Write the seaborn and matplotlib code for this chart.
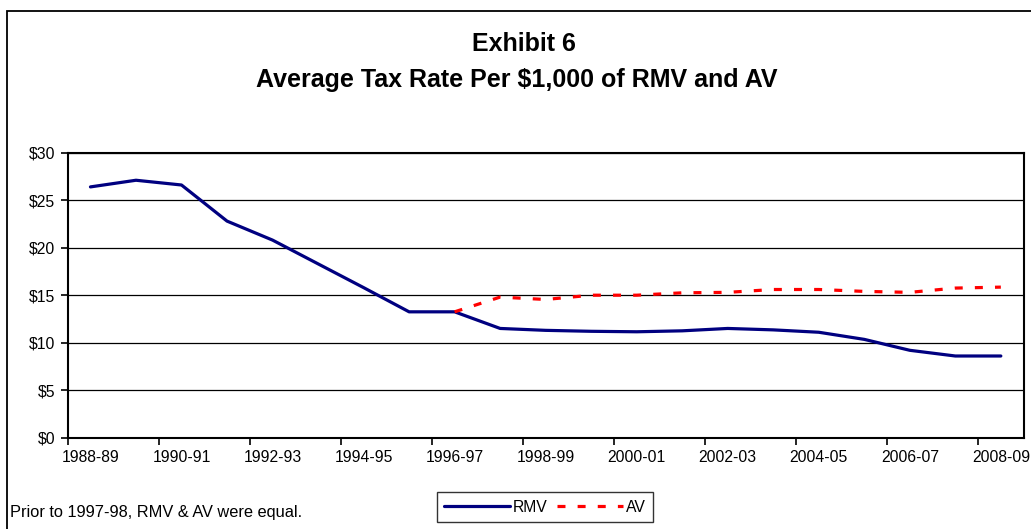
import numpy as np
import pandas as pd
import matplotlib
matplotlib.use('Agg')
import matplotlib.pyplot as plt
from matplotlib.patches import Rectangle
from matplotlib.ticker import StrMethodFormatter
import seaborn as sns

years = ['1988-89', '1989-90', '1990-91', '1991-92', '1992-93', '1993-94', '1994-95',
         '1995-96', '1996-97', '1997-98', '1998-99', '1999-00', '2000-01', '2001-02',
         '2002-03', '2003-04', '2004-05', '2005-06', '2006-07', '2007-08', '2008-09']
rmv = [26.4, 27.1, 26.6, 22.8, 20.8, 18.3, 15.8, 13.25, 13.25, 11.5, 11.3, 11.2, 11.15,
       11.25, 11.5, 11.35, 11.1, 10.35, 9.2, 8.6, 8.6]
av = [np.nan] * 8 + [13.25, 14.8, 14.55, 15.0, 15.0, 15.25, 15.3, 15.6, 15.6, 15.4,
                     15.3, 15.75, 15.85]

df = pd.DataFrame({'year': years, 'RMV': rmv, 'AV': av})

sns.set_style('white')
plt.rcParams['font.family'] = ['Liberation Sans', 'DejaVu Sans']
plt.rcParams['text.color'] = 'black'
plt.rcParams['xtick.color'] = 'black'
plt.rcParams['ytick.color'] = 'black'
plt.rcParams['axes.labelcolor'] = 'black'

fig = plt.figure(figsize=(10.31, 5.29), dpi=100)
ax = fig.add_axes([67.7 / 1031, 1 - 437.7 / 529, (1023.6 - 67.7) / 1031, (437.7 - 152.7) / 529])

sns.lineplot(data=df, x='year', y='RMV', ax=ax, color='#000080', lw=2.3, label='RMV')
sns.lineplot(data=df, x='year', y='AV', ax=ax, color='#FF0000', lw=2.3,
             linestyle=(0, (2.5, 3.8)), label='AV')

ax.set_xlim(-0.5, len(years) - 0.5)
ax.set_ylim(0, 30)
ax.set_xlabel('')
ax.set_ylabel('')

# labels on every other category, tick marks on category boundaries
ax.set_xticks(range(0, len(years), 2), labels=years[::2])
ax.set_xticks(np.arange(-0.5, len(years) - 1, 2), minor=True)
ax.tick_params(axis='x', which='major', length=0, pad=9, labelsize=11.3, labelcolor='black')
ax.tick_params(axis='x', which='minor', length=5, width=1.2, color='black', bottom=True)
ax.set_yticks(range(0, 31, 5))
ax.yaxis.set_major_formatter(StrMethodFormatter('${x:,.0f}'))
ax.tick_params(axis='y', length=5, width=1.2, pad=4, labelsize=11.3, labelcolor='black',
               color='black', left=True)

ax.yaxis.grid(True, color='black', lw=0.9)
ax.set_axisbelow(True)
for s in ax.spines.values():
    s.set_visible(True)
    s.set_color('black')
    s.set_linewidth(1.5)

leg = ax.legend(loc='center', bbox_to_anchor=(545 / 1031, 1 - 507 / 529),
                bbox_transform=fig.transFigure, ncol=2, fontsize=11.3, frameon=True,
                fancybox=False, edgecolor='black', handlelength=4.2, handletextpad=0.2,
                columnspacing=0.6, borderpad=0.45, borderaxespad=0)
leg.get_frame().set_linewidth(1.0)
for t in leg.get_texts():
    t.set_color('black')

fig.text(524 / 1031, 1 - 44 / 529, 'Exhibit 6', ha='center', va='center',
         fontsize=18, fontweight='bold', color='black')
fig.text(517 / 1031, 1 - 80 / 529, 'Average Tax Rate Per $1,000 of RMV and AV',
         ha='center', va='center', fontsize=18, fontweight='bold', color='black')
fig.text(10 / 1031, 1 - 513 / 529, 'Prior to 1997-98, RMV & AV were equal.',
         ha='left', va='center', fontsize=11.8, color='black')

# chart-area border, runs off the right and bottom of the image
fig.patches.append(Rectangle((7 / 1031, -0.1), 1.2, 1.1 - 11 / 529, transform=fig.transFigure,
                             fill=False, edgecolor='black', lw=1.3))

fig.savefig('out.png', dpi=100)
